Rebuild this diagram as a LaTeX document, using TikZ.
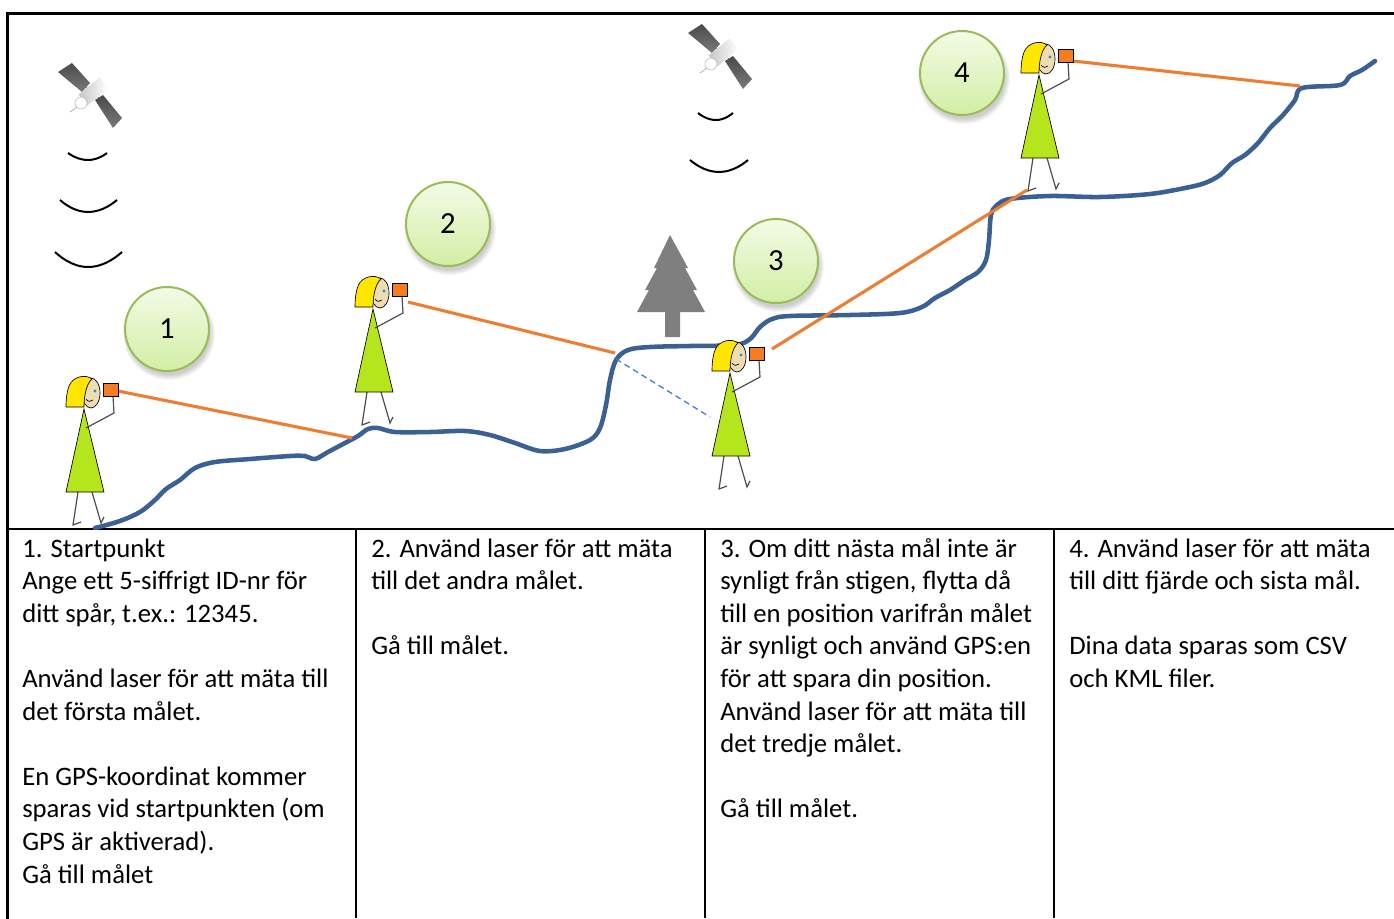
\documentclass[tikz,border=0pt]{standalone}
\usepackage{fontspec}
\setmainfont{Carlito}
\usetikzlibrary{calc}

\definecolor{trackblue}{HTML}{3A6094}
\definecolor{laser}{HTML}{ED7D31}
\definecolor{sight}{HTML}{4A7EC8}
\definecolor{ring}{HTML}{9BBB59}
\definecolor{bubbletop}{HTML}{F3FBE6}
\definecolor{bubblebot}{HTML}{D2EEA5}
\definecolor{treegray}{HTML}{7F7F7F}
\definecolor{dress}{HTML}{B5E61D}
\definecolor{camera}{HTML}{F47D21}
\definecolor{hair}{HTML}{FFE600}
\definecolor{skin}{HTML}{EEDDB2}
\definecolor{iris}{HTML}{1C8FD6}
\definecolor{limbgray}{HTML}{4D4D4D}
\definecolor{paneldark}{HTML}{4A4A4A}
\definecolor{panellight}{HTML}{7A7A7A}

\tikzset{
  frameline/.style={line width=2.25pt, line cap=rect},
  rule/.style={line width=1.5pt},
  trackline/.style={draw=trackblue, line width=3.4pt, line cap=round, line join=round},
  laserline/.style={draw=laser, line width=2.3pt},
  sightline/.style={draw=sight, line width=1pt, dash pattern=on 4.5pt off 3pt},
  wave/.style={line width=1.5pt},
  outline/.style={draw=black, line width=0.5pt},
  limbline/.style={draw=limbgray, line width=0.9pt},
  bubble/.style={circle, draw=ring, line width=1.5pt, minimum size=63pt, inner sep=0pt,
    top color=bubbletop, bottom color=bubblebot, font=\fontsize{23}{23}\selectfont},
  % anchored at the baseline of the last line of the cell
  coltext/.style={anchor=base west, inner sep=0pt, align=left,
    font=\fontsize{20}{24.45}\selectfont},
}

% a walker with a laser camera held up to the eye; origin = centre of the face
\newcommand\hiker[2]{%
  \begin{scope}[shift={(#1,#2)}]
    \draw[limbline] (-13,99) -- (-18,132) -- (-10,129);
    \draw[limbline] (1,99) -- (10,130) -- (13,124);
    \draw[outline, fill=dress] (-7,16) -- (-25,99) -- (13,99) -- cycle;
    \draw[limbline] (-5,35) -- (23,20) -- (22,3);
    \draw[outline, fill=camera] (12,-10) rectangle (27,3);
    \draw[outline, fill=skin] (0,0) ellipse [x radius=9, y radius=15];
    \draw[outline, fill=hair] (-25,14) -- (-7,14)
      .. controls (-7,4) and (-5,-9) .. (1,-14)
      .. controls (-5,-19) and (-18,-17) .. (-22,-7)
      .. controls (-24,-2) and (-25,6) .. cycle;
    \fill[iris] (4,-2) circle (1.6);
    \draw[outline] (-5,6) .. controls (-3,9) and (0,9) .. (2,7);
  \end{scope}}

% a small satellite with two solar panels
\newcommand\satellite[2]{%
  \begin{scope}[shift={(#1,#2)}]
    \shade[top color=paneldark, bottom color=panellight] (-32,-23) -- (-18,-32) -- (0,-12) -- (-8,-3) -- cycle;
    \shade[top color=paneldark, bottom color=panellight] (5,5) -- (13,0) -- (32,23) -- (23,33) -- cycle;
    \draw[gray, line width=0.6pt] (-4,-8) -- (9,3);
    \shade[left color=gray!45, right color=white] (-2.6,10.5) -- (-11.4,-0.5) -- (9.6,-17.5) -- (18.4,-6.5) -- cycle;
    \draw[gray!60, fill=white, line width=0.4pt] (-9,8) circle (6);
    \draw[gray!70, line width=0.5pt] (-13,12) -- (-20,17);
  \end{scope}}

% numbered step marker with a soft shadow
\newcommand\bubblemark[4]{%
  \foreach \r in {46,45,44,43,42,41} {\fill[black, opacity=0.035] (#1+2,#2+5) circle (\r);}
  \node[bubble] (#3) at (#1,#2) {#4};}

\begin{document}
\begin{tikzpicture}[x=0.75pt, y=-0.75pt]
\useasboundingbox (0,0) rectangle (1394,918);

% frame and table rules
\draw[frameline] (7,918) -- (7,13) -- (1394,13);
\draw[rule] (7,529) -- (1394,529);
\draw[rule] (356,529) -- (356,918);
\draw[rule] (705,529) -- (705,918);
\draw[rule] (1054,529) -- (1054,918);

% satellites and their signal waves
\satellite{90}{95}
\satellite{720}{56}
\draw[wave] (68,153) parabola bend (88,160) (107,153);
\draw[wave] (60,200) parabola bend (88,212) (117,200);
\draw[wave] (55,252) parabola bend (88,267) (122,252);
\draw[wave] (698,113) parabola bend (716,120) (733,113);
\draw[wave] (690,160) parabola bend (719,172) (748,160);

% tree
\fill[treegray] (670,235) -- (654,268) -- (657,268) -- (645,290) -- (649,290) -- (637,312)
  -- (665,312) -- (665,337) -- (680,337) -- (680,312) -- (705,312) -- (693,290) -- (697,290)
  -- (685,268) -- (688,268) -- cycle;

% the trail
\draw[trackline] plot[smooth, tension=0.55] coordinates {
  (95,528) (120,521) (140,512) (155,500) (166,489) (180,480) (195,468) (215,462) (250,459)
  (290,456) (305,456) (315,459) (328,452) (345,443) (358,436) (368,429) (378,428) (395,432)
  (430,432) (465,431) (490,435) (515,443) (540,451) (565,449) (590,440) (600,428) (606,405)
  (610,380) (616,360) (628,350) (650,347) (690,346) (735,345) (750,339) (760,327) (772,319)
  (790,316) (850,315) (900,313) (922,307) (935,298) (950,290) (965,280) (978,272) (986,260)
  (989,240) (991,215) (997,205) (1010,199) (1050,196) (1100,197) (1150,194) (1185,188)
  (1205,183) (1220,175) (1232,163) (1245,155) (1258,143) (1270,128) (1283,115) (1295,100)
  (1302,88) (1340,85) (1350,76) (1362,70) (1375,61)};

% laser sightings
\coordinate (s1) at (118,391);  \coordinate (t1) at (352,438);
\coordinate (s2) at (408,302);  \coordinate (t2) at (615,353);
\coordinate (s3) at (772,349);  \coordinate (t3) at (1027,190);
\coordinate (s4) at (1073,61);  \coordinate (t4) at (1300,86);
\coordinate (d1) at (616,359);  \coordinate (d2) at (710,417);
\draw[laserline] (s1) -- (t1);
\draw[laserline] (s2) -- (t2);
\draw[laserline] (s3) -- (t3);
\draw[laserline] (s4) -- (t4);
\draw[sightline] (d1) -- (d2);

% walkers
\hiker{91}{393}
\hiker{380}{293}
\hiker{737}{357}
\hiker{1046}{59}

% step markers
\bubblemark{167}{329}{m1}{1}
\bubblemark{448}{224}{m2}{2}
\bubblemark{776}{261}{m3}{3}
\bubblemark{962}{73}{m4}{4}

% instructions (first baseline at y = 557, line pitch 32.6)
\node[coltext] (c1) at (22,883) {1. Startpunkt\\Ange ett 5-siffrigt ID-nr för\\ditt spår, t.ex.: 12345.\\[24.45pt]Använd laser för att mäta till\\det första målet.\\[24.45pt]En GPS-koordinat kommer\\sparas vid startpunkten (om\\GPS är aktiverad).\\Gå till målet};
\node[coltext] (c2) at (371,654.8) {2. Använd laser för att mäta\\till det andra målet.\\[24.45pt]Gå till målet.};
\node[coltext] (c3) at (720,817.8) {3. Om ditt nästa mål inte är\\synligt från stigen, flytta då\\till en position varifrån målet\\är synligt och använd GPS:en\\för att spara din position.\\Använd laser för att mäta till\\det tredje målet.\\[24.45pt]Gå till målet.};
\node[coltext] (c4) at (1069,687.4) {4. Använd laser för att mäta\\till ditt fjärde och sista mål.\\[24.45pt]Dina data sparas som CSV\\och KML filer.};
\end{tikzpicture}
\end{document}
